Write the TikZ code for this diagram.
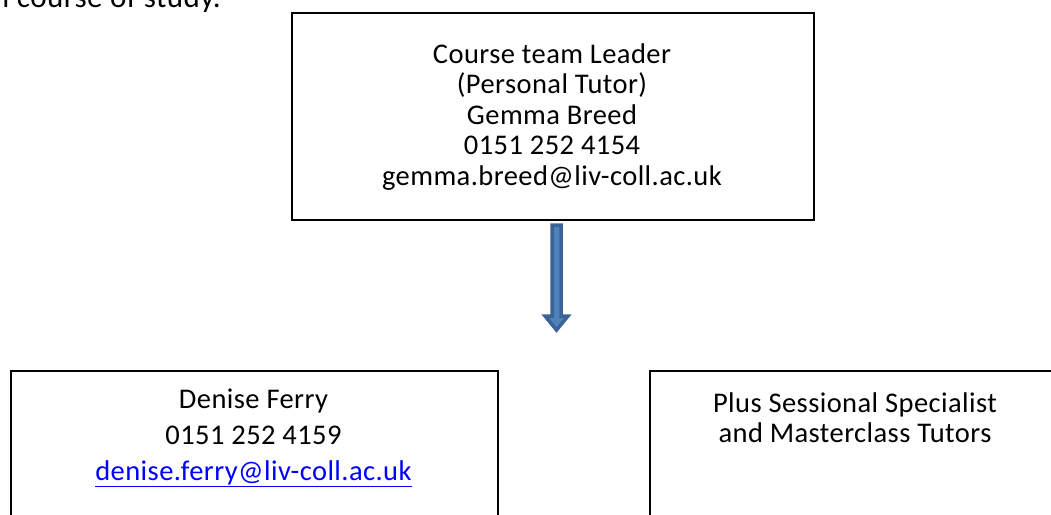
\documentclass[tikz,border=0pt]{standalone}
\usepackage{fontspec}
\setmainfont{Carlito}
\usepackage{tikz}
\usetikzlibrary{positioning}

\definecolor{arrowfill}{HTML}{4F81BD}
\definecolor{arrowline}{HTML}{3B6396}
\definecolor{linkblue}{RGB}{0,0,255}

\begin{document}
\begin{tikzpicture}
  [x=1pt, y=-1pt,
   box/.style={draw, line width=1.5pt, inner sep=0pt},
   box text/.style={align=center, inner sep=0pt, font=\fontsize{28.5}{30.5}\selectfont\addfontfeatures{LetterSpace=1.5}},
   arrow body/.style={fill=arrowfill, draw=arrowline, line width=3.5pt, line join=miter}]
  \clip (0, 0) rectangle (1051, 514);
  \node[anchor=base east, inner sep=0pt, font=\fontsize{31}{31}\selectfont\addfontfeatures{LetterSpace=1.5}] (intro) at (221, 7.5) {individual course of study.};
  \node[box, minimum width=522pt, minimum height=207pt, anchor=north west] (leader) at (291, 12) {};
  \node[box text, anchor=north] (leader text) at (552, 43.5) {Course team Leader\\(Personal Tutor)\\Gemma Breed\\0151 252 4154\\gemma.breed@liv-coll.ac.uk};
  \node[box, minimum width=487pt, minimum height=180pt, anchor=north west] (denise) at (10, 370) {};
  \node[box text, anchor=north, font=\fontsize{28.5}{36}\selectfont\addfontfeatures{LetterSpace=1.5}] (denise text) at (253.5, 388.5) {Denise Ferry\\0151 252 4159\\\textcolor{linkblue}{\underline{denise.ferry@liv-coll.ac.uk}}};
  \node[box, minimum width=420pt, minimum height=180pt, anchor=north west] (sessional) at (649, 370) {};
  \node[box text, anchor=north] (sessional text) at (855, 392.5) {Plus Sessional Specialist\\and Masterclass Tutors};
  \coordinate (arrow top) at (556.5, 225);
  \coordinate (arrow end) at (556.5, 330);
  \draw[arrow body] (arrow top) ++(-4.5, 0) -- ++(9, 0) -- ++(0, 91) -- ++(7, 0) -- (arrow end) -- ++(-11.5, -14) -- ++(7, 0) -- cycle;
\end{tikzpicture}
\end{document}
